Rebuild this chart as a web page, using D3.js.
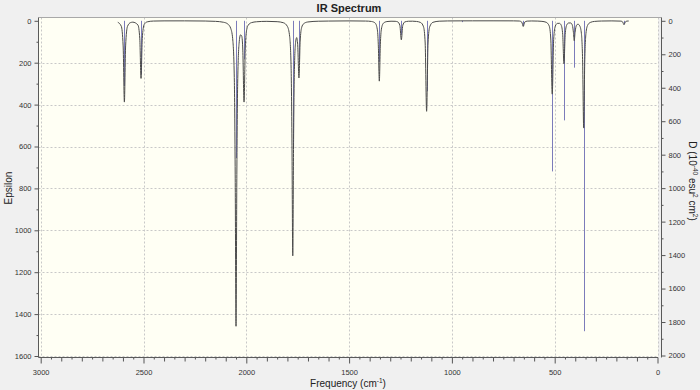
<!DOCTYPE html>
<html>
<head>
<meta charset="utf-8">
<script src="https://cdn.jsdelivr.net/npm/d3@7"></script>
<style>
  body { margin: 0; background: #f0f0f0; }
  svg { display: block; font-family: "Liberation Sans", Arial, sans-serif; }
</style>
</head>
<body>
<script>
// svg size
let width = 700;
let height = 390;

// plot box
let box = { left: 38.5, right: 658, top: 17.5, bottom: 357.5 };

// stick spectrum: frequency (cm-1) and dipole strength D
let peakFreq = [2593, 2512, 2050, 2011, 1774, 1744, 1353, 1246, 1123, 951, 653, 512, 455, 405, 359, 163];
let peakD = [390, 320, 820, 230, 760, 250, 245, 84, 420, 8, 30, 900, 595, 280, 1855, 20];

// broadened curve [frequency, epsilon]
let curve = [
  [2625, 7], [2608, 26], [2599, 120], [2593, 388], [2587, 120], [2578, 27], [2563, 8.5], [2552, 6.5],
  [2527, 20], [2518, 86], [2512, 275], [2506, 85], [2497, 18], [2482, 5], [2452, 1.2], [2400, 0.4],
  [2300, 0.3], [2200, 1.1], [2150, 2.6], [2110, 7.1], [2090, 15.4], [2075, 38], [2065, 99], [2058, 294],
  [2054, 732], [2050, 1458], [2046, 734], [2042, 298], [2035, 107], [2028, 67], [2022, 74], [2017, 140],
  [2011, 388], [2005, 130], [1998, 42], [1990, 20], [1975, 8.8], [1950, 4.6], [1900, 2.6], [1850, 4.2],
  [1820, 9.1], [1800, 27], [1789, 76], [1782, 227], [1778, 564], [1774, 1122], [1770, 567], [1766, 232],
  [1760, 101], [1755, 80], [1750, 114], [1744, 273], [1738, 97], [1731, 33], [1721, 14], [1701, 5.6],
  [1650, 2], [1600, 1.2], [1500, 0.5], [1420, 1.2], [1391, 3.2], [1373, 11], [1363, 40], [1358, 112],
  [1353, 288], [1348, 112], [1343, 40], [1333, 11.3], [1316, 3.6], [1296, 2], [1276, 2.4], [1263, 5.4],
  [1253, 22.8], [1246, 91], [1239, 22.4], [1229, 5.4], [1211, 2.1], [1191, 1.9], [1172, 3.1], [1152, 8.2],
  [1138, 28.7], [1130, 106], [1123, 432], [1116, 106], [1108, 28.7], [1092, 7.1], [1062, 1.9], [1022, 0.7],
  [960, 0.3], [900, 0.2], [800, 0.1], [700, 0.3], [672, 1.1], [660, 6.6], [653, 27], [646, 6.6],
  [634, 1.5], [612, 0.8], [582, 1.4], [562, 2.7], [542, 6.8], [527, 24], [519, 87], [512, 350],
  [505, 88], [497, 25], [487, 12.4], [477, 12], [468, 21.7], [461, 66], [455, 205], [449, 66],
  [442, 21], [432, 10.4], [422, 10.4], [414, 21.7], [409, 55], [405, 95], [401, 56], [394, 21.3],
  [387, 16.1], [378, 24.6], [370, 61.7], [364, 201], [359, 512], [354, 201], [348, 60], [340, 21.7],
  [327, 7.9], [307, 3], [272, 1.1], [222, 0.44], [178, 1.5], [169, 6.1], [163, 19], [157, 6.1],
  [148, 1.4], [140, 1]
];

// tick values
let freqTicks = [3000, 2500, 2000, 1500, 1000, 500, 0];
let epsTicks = [0, 200, 400, 600, 800, 1000, 1200, 1400, 1600];
let dTicks = [0, 200, 400, 600, 800, 1000, 1200, 1400, 1600, 1800, 2000];

let x = d3.scaleLinear().domain([3000, 0]).range([40.7, 657.5]);
let yEps = d3.scaleLinear().domain([0, 1600]).range([20.8, 356]);
let yD = d3.scaleLinear().domain([0, 2000]).range([20.8, 355.5]);
let fmt = d3.format('d');

let svg = d3.select('body')
  .append('svg')
  .attr('width', width)
  .attr('height', height);

// plot background
svg.append('rect')
  .attr('x', box.left)
  .attr('y', box.top)
  .attr('width', box.right - box.left)
  .attr('height', box.bottom - box.top)
  .attr('fill', '#fffff4');

// dotted grid
let grid = svg.append('g')
  .attr('stroke', '#c8c8c8')
  .attr('stroke-width', 1)
  .attr('stroke-dasharray', '2,2');

grid.selectAll('.hgrid')
  .data(epsTicks.slice(1))
  .enter()
  .append('line')
  .attr('x1', box.left)
  .attr('x2', box.right)
  .attr('y1', d => Math.round(yEps(d)) + 0.5)
  .attr('y2', d => Math.round(yEps(d)) + 0.5);

grid.selectAll('.vgrid')
  .data(freqTicks)
  .enter()
  .append('line')
  .attr('y1', box.top)
  .attr('y2', box.bottom)
  .attr('x1', d => Math.round(x(d)) + 0.5)
  .attr('x2', d => Math.round(x(d)) + 0.5);

// top frame
svg.append('line')
  .attr('x1', box.left).attr('x2', 661.5)
  .attr('y1', box.top).attr('y2', box.top)
  .attr('stroke', '#a8a8a8');

let styleAxis = g => {
  g.select('.domain').remove();
  g.selectAll('.tick line').attr('stroke', '#555');
  g.selectAll('.tick text').attr('fill', '#333').attr('font-size', '7.5px');
};

// left axis (epsilon)
svg.append('g')
  .attr('transform', `translate(${box.left},0)`)
  .call(d3.axisLeft(yEps).tickValues(d3.range(100, 1600, 200)).tickSize(2).tickFormat(''))
  .call(styleAxis);
svg.append('g')
  .attr('transform', `translate(${box.left},0)`)
  .call(d3.axisLeft(yEps).tickValues(epsTicks).tickSize(4).tickPadding(3).tickFormat(fmt))
  .call(styleAxis);

// right axis (D)
svg.append('g')
  .attr('transform', 'translate(661.5,0)')
  .call(d3.axisRight(yD).tickValues(d3.range(100, 2000, 200)).tickSize(2).tickFormat(''))
  .call(styleAxis);
svg.append('g')
  .attr('transform', 'translate(661.5,0)')
  .call(d3.axisRight(yD).tickValues(dTicks).tickSize(4).tickPadding(3).tickFormat(fmt))
  .call(styleAxis);

// bottom axis (frequency)
svg.append('g')
  .attr('transform', `translate(0,${box.bottom})`)
  .call(d3.axisBottom(x).tickValues(d3.range(50, 3000, 100)).tickSize(2).tickFormat(''))
  .call(styleAxis);
svg.append('g')
  .attr('transform', `translate(0,${box.bottom})`)
  .call(d3.axisBottom(x).tickValues(d3.range(100, 3000, 100).filter(d => d % 500)).tickSize(4).tickFormat(''))
  .call(styleAxis);
svg.append('g')
  .attr('transform', `translate(0,${box.bottom})`)
  .call(d3.axisBottom(x).tickValues(freqTicks).tickSize(6).tickFormat(fmt))
  .call(styleAxis)
  .call(g => g.selectAll('.tick text').attr('y', 12));

// axis lines
let axisLines = svg.append('g').attr('stroke', '#5a5a5a');
axisLines.append('line')
  .attr('x1', box.left).attr('x2', box.left)
  .attr('y1', box.top).attr('y2', box.bottom);
axisLines.append('line')
  .attr('x1', box.left).attr('x2', box.right)
  .attr('y1', box.bottom).attr('y2', box.bottom);
axisLines.append('line')
  .attr('x1', 661.5).attr('x2', 661.5)
  .attr('y1', box.top).attr('y2', box.bottom);

// sticks
svg.append('g')
  .selectAll('line')
  .data(peakFreq)
  .enter()
  .append('line')
  .attr('x1', d => Math.round(x(d)) + 0.5)
  .attr('x2', d => Math.round(x(d)) + 0.5)
  .attr('y1', yD(0))
  .attr('y2', (d, i) => yD(peakD[i]))
  .attr('stroke', '#7c7cba')
  .attr('stroke-width', 1);

// broadened spectrum
let line = d3.line()
  .x(d => x(d[0]))
  .y(d => yEps(d[1]))
  .curve(d3.curveMonotoneX);

svg.append('path')
  .datum(curve)
  .attr('fill', 'none')
  .attr('stroke', '#4a4a4a')
  .attr('stroke-width', 1)
  .attr('d', line);

// titles
svg.append('text')
  .attr('x', 349)
  .attr('y', 12)
  .attr('text-anchor', 'middle')
  .attr('font-size', '11px')
  .attr('font-weight', 'bold')
  .attr('fill', '#222')
  .text('IR Spectrum');

svg.append('text')
  .attr('transform', 'translate(12,188) rotate(-90)')
  .attr('text-anchor', 'middle')
  .attr('font-size', '10px')
  .attr('fill', '#222')
  .text('Epsilon');

let xLabel = svg.append('text')
  .attr('x', 348)
  .attr('y', 386.5)
  .attr('text-anchor', 'middle')
  .attr('font-size', '10px')
  .attr('fill', '#222');
xLabel.append('tspan').text('Frequency (cm');
xLabel.append('tspan').attr('dy', -4).attr('font-size', '6.5px').text('-1');
xLabel.append('tspan').attr('dy', 4).text(')');

let dLabel = svg.append('text')
  .attr('transform', 'translate(689,181) rotate(90)')
  .attr('text-anchor', 'middle')
  .attr('font-size', '10px')
  .attr('fill', '#222');
dLabel.append('tspan').text('D (10');
dLabel.append('tspan').attr('dy', -4).attr('font-size', '6.5px').text('-40');
dLabel.append('tspan').attr('dy', 4).text(' esu');
dLabel.append('tspan').attr('dy', -4).attr('font-size', '6.5px').text('2');
dLabel.append('tspan').attr('dy', 4).text(' cm');
dLabel.append('tspan').attr('dy', -4).attr('font-size', '6.5px').text('2');
dLabel.append('tspan').attr('dy', 4).text(')');
</script>
</body>
</html>
